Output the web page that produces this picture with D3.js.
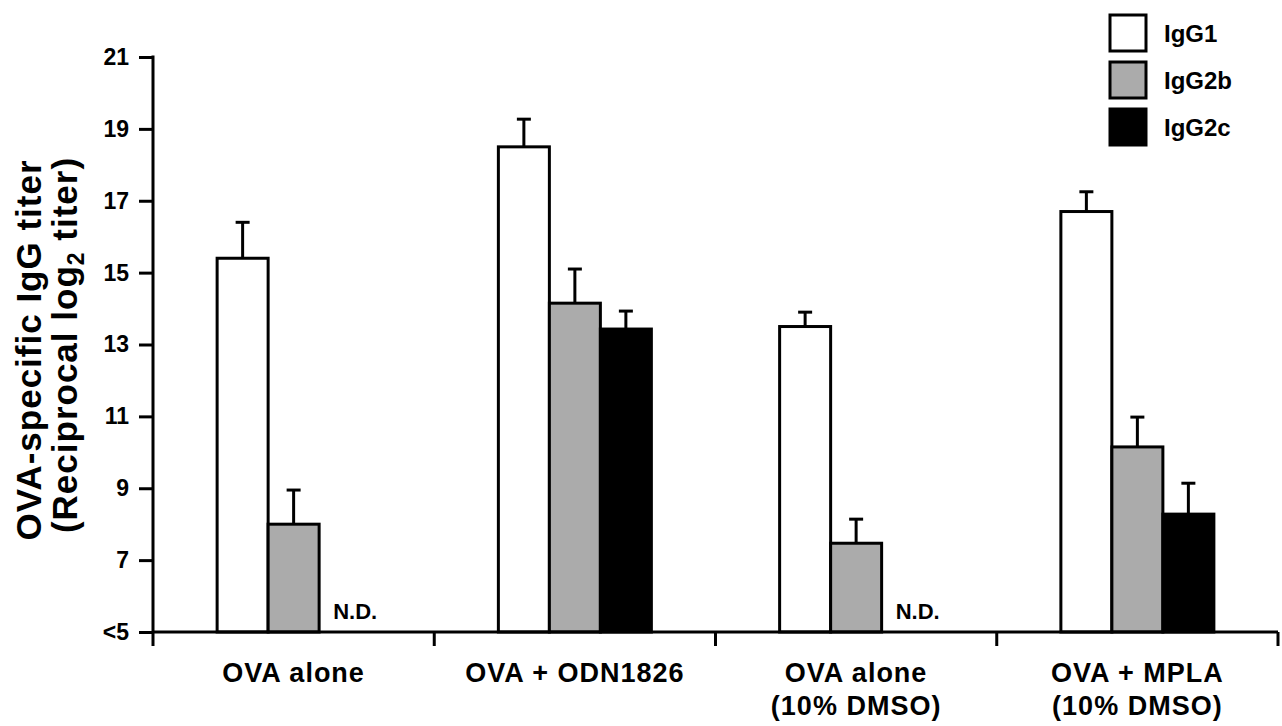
<!DOCTYPE html>
<meta charset="utf-8">
<head>
  <style>
    body { margin: 0; background: #fff; }
    svg text { font-family: "Liberation Sans", Arial, sans-serif; font-weight: bold; fill: #000; }
  </style>
</head>
<body>
  <div class="chart"></div>

  <script src="https://d3js.org/d3.v7.min.js"></script>
  <script>
    // data
    var groups = ["OVA alone", "OVA + ODN1826", "OVA alone (10% DMSO)", "OVA + MPLA (10% DMSO)"];
    var groupLines = [["OVA alone"], ["OVA + ODN1826"], ["OVA alone", "(10% DMSO)"], ["OVA + MPLA", "(10% DMSO)"]];
    var series = ["IgG1", "IgG2b", "IgG2c"];
    var igg1 = [15.4, 18.5, 13.5, 16.7];
    var igg1Err = [1.0, 0.77, 0.4, 0.55];
    var igg2b = [8.0, 14.15, 7.47, 10.15];
    var igg2bErr = [0.95, 0.95, 0.67, 0.83];
    var igg2c = [null, 13.43, null, 8.28];
    var igg2cErr = [null, 0.5, null, 0.86];
    var yTicks = [5, 7, 9, 11, 13, 15, 17, 19, 21];
    var yTickLabels = ["<5", "7", "9", "11", "13", "15", "17", "19", "21"];
    var ndLabel = "N.D.";

    var colors = { "IgG1": "#ffffff", "IgG2b": "#ababab", "IgG2c": "#000000" };
    var values = [igg1, igg2b, igg2c];
    var errors = [igg1Err, igg2bErr, igg2cErr];

    var width = 1282, height = 726;
    var plotLeft = 153, plotRight = 1278, plotTop = 57, plotBottom = 632;

    var svg = d3.select(".chart").append("svg")
      .attr("width", width)
      .attr("height", height);

    var y = d3.scaleLinear().domain([5, 21]).range([plotBottom, plotTop]);
    var x0 = d3.scaleBand().domain(groups).range([plotLeft, plotRight]).padding(0);
    var x1 = d3.scaleBand().domain(series).range([-76.5, 76.5]).padding(0);

    // flatten to one record per bar
    var bars = [];
    groups.forEach(function (g, gi) {
      series.forEach(function (s, si) {
        bars.push({ group: g, series: s, value: values[si][gi], err: errors[si][gi] });
      });
    });

    var cx = function (d) { return x0(d.group) + x0.bandwidth() / 2 + x1(d.series); };

    // bars
    svg.selectAll(".bar")
      .data(bars.filter(function (d) { return d.value != null; }))
      .enter().append("rect")
      .attr("class", "bar")
      .attr("x", cx)
      .attr("y", function (d) { return y(d.value); })
      .attr("width", x1.bandwidth())
      .attr("height", function (d) { return y(5) - y(d.value); })
      .attr("fill", function (d) { return colors[d.series]; })
      .attr("stroke", "#000")
      .attr("stroke-width", 3);

    // error bars (upper only)
    var eb = svg.selectAll(".err")
      .data(bars.filter(function (d) { return d.value != null; }))
      .enter().append("g")
      .attr("class", "err")
      .attr("stroke", "#000")
      .attr("stroke-width", 3);
    eb.append("line")
      .attr("x1", function (d) { return cx(d) + x1.bandwidth() / 2; })
      .attr("x2", function (d) { return cx(d) + x1.bandwidth() / 2; })
      .attr("y1", function (d) { return y(d.value); })
      .attr("y2", function (d) { return y(d.value + d.err); });
    eb.append("line")
      .attr("x1", function (d) { return cx(d) + x1.bandwidth() / 2 - 7; })
      .attr("x2", function (d) { return cx(d) + x1.bandwidth() / 2 + 7; })
      .attr("y1", function (d) { return y(d.value + d.err); })
      .attr("y2", function (d) { return y(d.value + d.err); });

    // N.D. labels
    svg.selectAll(".nd")
      .data(bars.filter(function (d) { return d.value == null; }))
      .enter().append("text")
      .attr("class", "nd")
      .attr("x", function (d) { return cx(d) + 14; })
      .attr("y", y(5) - 13)
      .style("font-size", "22px")
      .text(ndLabel);

    // y axis
    var yAxis = d3.axisLeft(y)
      .tickValues(yTicks)
      .tickFormat(function (d, i) { return yTickLabels[i]; })
      .tickSize(14)
      .tickPadding(10);
    var yg = svg.append("g")
      .attr("transform", "translate(" + plotLeft + ",0)")
      .call(yAxis);
    yg.select(".domain").remove();
    yg.append("line")
      .attr("x1", 0).attr("x2", 0)
      .attr("y1", plotTop - 1.5).attr("y2", plotBottom + 14)
      .attr("stroke", "#000").attr("stroke-width", 3);
    yg.selectAll(".tick line").attr("stroke-width", 3);
    yg.selectAll(".tick text").style("font-size", "23px");

    // x axis
    var xg = svg.append("g");
    xg.append("line")
      .attr("x1", plotLeft).attr("x2", plotRight)
      .attr("y1", plotBottom).attr("y2", plotBottom)
      .attr("stroke", "#000").attr("stroke-width", 3);
    xg.selectAll(".xtick")
      .data(groups)
      .enter().append("line")
      .attr("class", "xtick")
      .attr("x1", function (d) { return x0(d) + x0.bandwidth(); })
      .attr("x2", function (d) { return x0(d) + x0.bandwidth(); })
      .attr("y1", plotBottom)
      .attr("y2", plotBottom + 14)
      .attr("stroke", "#000").attr("stroke-width", 3);

    var xl = xg.selectAll(".xlabel")
      .data(groups)
      .enter().append("text")
      .attr("class", "xlabel")
      .attr("text-anchor", "middle")
      .style("font-size", "27px")
      .style("letter-spacing", "1px")
      .attr("transform", function (d) { return "translate(" + (x0(d) + x0.bandwidth() / 2) + ",682)"; });
    xl.selectAll("tspan")
      .data(function (d, i) { return groupLines[i]; })
      .enter().append("tspan")
      .attr("x", 0)
      .attr("y", function (d, i) { return i * 33; })
      .text(function (d) { return d; });

    // y title
    var yt = svg.append("text")
      .attr("text-anchor", "middle")
      .style("font-size", "35px")
      .style("letter-spacing", "1px")
      .attr("transform", "translate(41,350) rotate(-90)");
    yt.append("tspan").attr("x", 0).attr("y", 0).text("OVA-specific IgG titer");
    var yt2 = svg.append("text")
      .attr("text-anchor", "middle")
      .style("font-size", "35px")
      .style("letter-spacing", "1px")
      .attr("transform", "translate(77,345) rotate(-90)");
    yt2.append("tspan").text("(Reciprocal log");
    yt2.append("tspan").attr("dy", 7).style("font-size", "23px").text("2");
    yt2.append("tspan").attr("dy", -7).text(" titer)");

    // legend
    var legend = svg.selectAll(".legend")
      .data(series)
      .enter().append("g")
      .attr("class", "legend")
      .attr("transform", function (d, i) { return "translate(1110," + (15 + i * 47) + ")"; });
    legend.append("rect")
      .attr("width", 36)
      .attr("height", 36)
      .attr("fill", function (d) { return colors[d]; })
      .attr("stroke", "#000")
      .attr("stroke-width", 3);
    legend.append("text")
      .attr("x", 54)
      .attr("y", 27)
      .style("font-size", "24px")
      .text(function (d) { return d; });
  </script>
</body>
